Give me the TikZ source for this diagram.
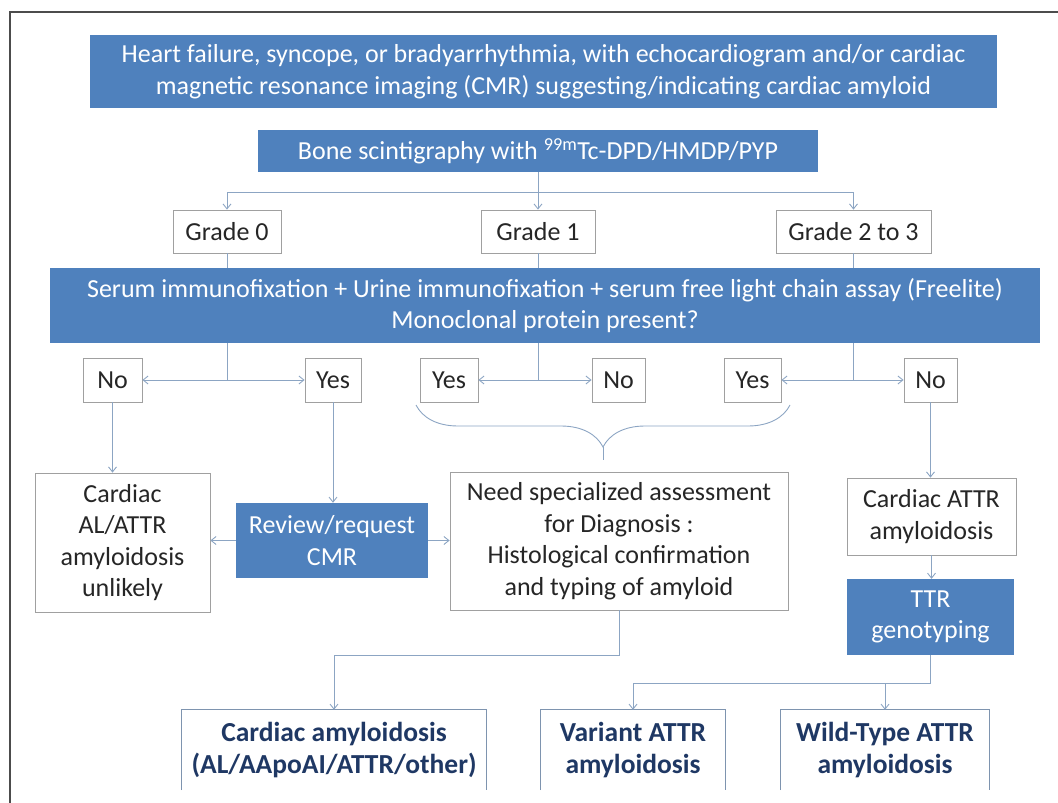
\documentclass[tikz,border=0pt]{standalone}
\usepackage{fontspec}
\setmainfont{Carlito}
\usetikzlibrary{arrows.meta,calc,positioning,decorations.pathreplacing}
\definecolor{boxblue}{RGB}{79,129,189}
\definecolor{boxgray}{RGB}{160,160,160}
\definecolor{linegray}{RGB}{140,165,195}
\definecolor{txtgray}{RGB}{38,38,38}
\definecolor{darkblue}{RGB}{31,56,100}
\tikzset{
    bluebox/.style={fill=boxblue, text=white, inner sep=0pt, align=center},
    whitebox/.style={draw=boxgray, line width=0.8pt, fill=white, text=txtgray, inner sep=0pt, align=center},
    openbox/.style={text=darkblue, font=\fontsize{27.5}{32}\selectfont\bfseries, inner sep=0pt, align=center},
    conn/.style={draw=linegray, line width=0.9pt},
    arr/.style={conn, -{Straight Barb[length=5pt,width=8pt]}},
}

\begin{document}
\begin{tikzpicture}[x=1pt,y=-1pt,every node/.style={font=\fontsize{26}{31.5}\selectfont}]
   \useasboundingbox (0,0) rectangle (1058,803);
   % outer frame
   \draw[line width=1.2pt, draw=black!70] (10,803) -- (10,12) -- (1058,12);

   % top of the chart
   \node[bluebox, minimum width=907, minimum height=73] (heart) at (543.5,71.5)
      {Heart failure, syncope, or bradyarrhythmia, with echocardiogram and/or cardiac\\
       magnetic resonance imaging (CMR) suggesting/indicating cardiac amyloid};
   \node[bluebox, minimum width=560, minimum height=42] (bone) at (538,151)
      {Bone scintigraphy with \textsuperscript{99m}Tc-DPD/HMDP/PYP};

   % grades
   \node[whitebox, minimum width=108, minimum height=43] (g0) at (227,231.5) {Grade 0};
   \node[whitebox, minimum width=114, minimum height=43] (g1) at (538,231.5) {Grade 1};
   \node[whitebox, minimum width=155, minimum height=43] (g23) at (853.5,231.5) {Grade 2 to 3};

   \node[bluebox, minimum width=990, minimum height=75] (serum) at (545,305.5)
      {Serum immunofixation + Urine immunofixation + serum free light chain assay (Freelite)\\
       Monoclonal protein present?};

   % answers
   \node[whitebox, minimum width=59, minimum height=44] (no1) at (112.5,380) {No};
   \node[whitebox, minimum width=56, minimum height=44] (yes1) at (333,380) {Yes};
   \node[whitebox, minimum width=58, minimum height=44] (yes2) at (449,380) {Yes};
   \node[whitebox, minimum width=53, minimum height=44] (no2) at (618.5,380) {No};
   \node[whitebox, minimum width=57, minimum height=44] (yes3) at (752.5,380) {Yes};
   \node[whitebox, minimum width=53, minimum height=44] (no3) at (930.5,380) {No};

   % outcomes
   \node[whitebox, minimum width=175, minimum height=139] (unlikely) at (122.5,542.5)
      {Cardiac\\AL/ATTR\\amyloidosis\\unlikely};
   \node[bluebox, minimum width=192, minimum height=75] (review) at (332,540.5)
      {Review/request\\CMR};
   \node[whitebox, minimum width=338, minimum height=138] (need) at (619,541)
      {Need specialized assessment\\for Diagnosis :\\Histological confirmation\\and typing of amyloid};
   \node[whitebox, minimum width=169, minimum height=77] (attr) at (931.5,516.5)
      {Cardiac ATTR\\amyloidosis};
   \node[bluebox, minimum width=167, minimum height=76] (ttr) at (930.5,617)
      {TTR\\genotyping};

   % final diagnoses
   \node[openbox, minimum width=304, minimum height=80] (camyl) at (334,750)
      {Cardiac amyloidosis\\(AL/AApoAI/ATTR/other)};
   \node[openbox, minimum width=184, minimum height=80] (variant) at (633,750)
      {Variant ATTR\\amyloidosis};
   \node[openbox, minimum width=208, minimum height=80] (wild) at (885,750)
      {Wild-Type ATTR\\amyloidosis};
   \foreach \n in {camyl,variant,wild}
      \draw[draw=linegray!90!black, line width=0.8pt] (\n.south west) |- (\n.north east) -- (\n.south east);

   % connectors
   \coordinate (split) at (538,192);
   \draw[arr] (bone.south) -- (g1.north);
   \draw[arr] (split) -| (g0.north);
   \draw[arr] (split) -| (g23.north);
   \foreach \g in {g0,g1,g23}
      \draw[conn] (\g.south) -- (\g.south |- serum.north);

   \draw[arr] (serum.south -| g0) |- (no1.east);
   \draw[arr] (serum.south -| g0) |- (yes1.west);
   \draw[arr] (serum.south -| g1) |- (yes2.east);
   \draw[arr] (serum.south -| g1) |- (no2.west);
   \draw[arr] (serum.south -| g23) |- (yes3.east);
   \draw[arr] (serum.south -| g23) |- (no3.west);

   \draw[arr] (no1.south) -- (no1.south |- unlikely.north);
   \draw[arr] (yes1.south) -- (yes1.south |- review.north);
   \draw[arr] (no3.south) -- (no3.south |- attr.north);
   \draw[arr, {Straight Barb[length=5pt,width=8pt]}-] (unlikely.east |- review.west) -- (review.west);
   \draw[arr] (review.east) -- (review.east -| need.west);
   \draw[arr] (attr.south) -- (attr.south |- ttr.north);

   % brace under the two yes boxes
   \draw[conn, decorate, decoration={brace, amplitude=42pt, aspect=0.5}] (790,405) -- (416,405);
   \coordinate (bracetip) at (603,447);
   \draw[conn, shorten >=12pt] (bracetip) -- (bracetip |- need.north);

   \draw[arr] (need.south) -- ++(0,45) -| (camyl.north);
   \coordinate (ttrjoin) at ($(ttr.south)+(0,28)$);
   \draw[arr] (ttr.south) -- (ttrjoin) -| (variant.north);
   \draw[arr] (ttrjoin -| wild.north) -- (wild.north);
\end{tikzpicture}
\end{document}
